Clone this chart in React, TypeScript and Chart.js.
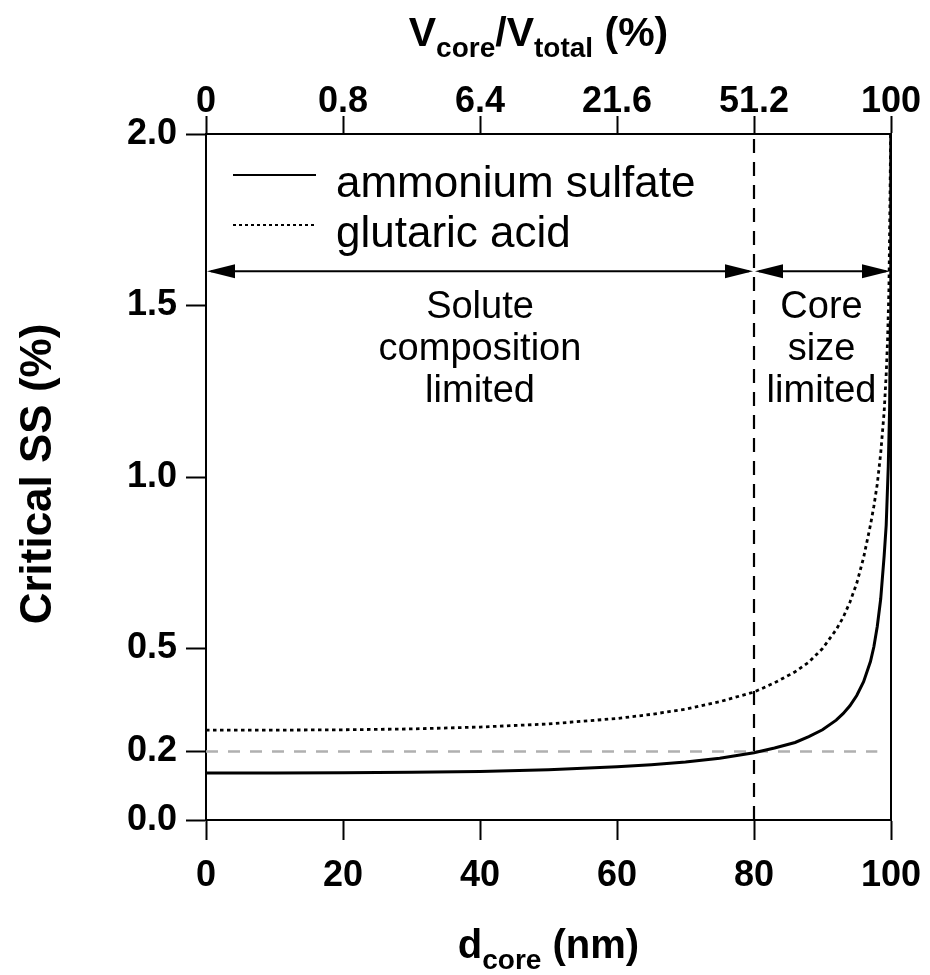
import React, { useEffect, useRef } from "react";
import { Chart, registerables } from "chart.js";

Chart.register(...registerables);

// ---- data ----
const dCore = [0, 10, 20, 30, 40, 50, 60, 65, 70, 75, 80, 83, 86, 88, 90, 92, 93, 94, 95, 96, 97, 97.5, 98, 98.5, 99, 99.3, 99.6, 99.8, 99.9, 99.97];
const ammoniumSulfate = [0.137, 0.137, 0.1375, 0.139, 0.1415, 0.1465, 0.155, 0.161, 0.169, 0.18, 0.196, 0.21, 0.226, 0.243, 0.263, 0.291, 0.31, 0.333, 0.363, 0.403, 0.462, 0.505, 0.565, 0.645, 0.77, 0.86, 1.03, 1.2, 1.45, 2.0];
const dCoreGA = [0, 10, 20, 30, 40, 50, 60, 65, 70, 75, 80, 83, 86, 88, 90, 92, 93, 94, 95, 96, 97, 97.5, 98, 98.5, 99, 99.3, 99.5, 99.7, 99.85, 99.95];
const glutaricAcid = [0.262, 0.262, 0.263, 0.2655, 0.271, 0.28, 0.296, 0.308, 0.323, 0.345, 0.373, 0.4, 0.432, 0.46, 0.5, 0.555, 0.59, 0.635, 0.69, 0.765, 0.86, 0.915, 0.98, 1.07, 1.19, 1.3, 1.4, 1.55, 1.8, 2.0];

const bottomTicks = [0, 20, 40, 60, 80, 100];
const topTickLabels = ["0", "0.8", "6.4", "21.6", "51.2", "100"];
const yTicks = [0, 0.2, 0.5, 1.0, 1.5, 2.0];

const refSS = 0.2;
const refEnd = 98;
const boundary = 80;
const arrowLevel = 1.6;

const seriesNames = ["ammonium sulfate", "glutaric acid"];
const leftRegion = ["Solute", "composition", "limited"];
const rightRegion = ["Core", "size", "limited"];

const FONT = "'Liberation Sans', Arial, Helvetica, sans-serif";

type Seg = { t: string; sub?: boolean };

function segWidth(ctx: CanvasRenderingContext2D, segs: Seg[], big: number, small: number) {
  let w = 0;
  for (const s of segs) {
    ctx.font = `bold ${s.sub ? small : big}px ${FONT}`;
    w += ctx.measureText(s.t).width;
  }
  return w;
}

function drawSegs(ctx: CanvasRenderingContext2D, segs: Seg[], cx: number, baseline: number, big: number, small: number, subShift: number) {
  const total = segWidth(ctx, segs, big, small);
  let x = cx - total / 2;
  ctx.textAlign = "left";
  ctx.textBaseline = "alphabetic";
  for (const s of segs) {
    ctx.font = `bold ${s.sub ? small : big}px ${FONT}`;
    ctx.fillText(s.t, x, baseline + (s.sub ? subShift : 0));
    x += ctx.measureText(s.t).width;
  }
}

function arrowHead(ctx: CanvasRenderingContext2D, tipX: number, y: number, dir: number) {
  const L = 28, H = 7;
  ctx.beginPath();
  ctx.moveTo(tipX, y);
  ctx.lineTo(tipX - dir * L, y - H);
  ctx.lineTo(tipX - dir * L, y + H);
  ctx.closePath();
  ctx.fill();
}

function doubleArrow(ctx: CanvasRenderingContext2D, x1: number, x2: number, y: number) {
  ctx.beginPath();
  ctx.moveTo(x1 + 4, y);
  ctx.lineTo(x2 - 4, y);
  ctx.stroke();
  arrowHead(ctx, x1, y, -1);
  arrowHead(ctx, x2, y, 1);
}

const overlayPlugin = {
  id: "overlay",
  afterDraw(chart: any) {
    const { ctx, scales } = chart;
    const xs = scales.x, ys = scales.y;
    ctx.save();
    ctx.fillStyle = "#000";
    ctx.strokeStyle = "#000";
    ctx.lineWidth = 2;
    ctx.setLineDash([]);

    // arrows
    const ay = ys.getPixelForValue(arrowLevel);
    const x0 = xs.getPixelForValue(0);
    const xb = xs.getPixelForValue(boundary);
    const x1 = xs.getPixelForValue(100);
    doubleArrow(ctx, x0 + 1, xb - 1, ay);
    doubleArrow(ctx, xb + 1, x1 - 1, ay);

    // region labels
    ctx.font = `38px ${FONT}`;
    ctx.textAlign = "center";
    ctx.textBaseline = "alphabetic";
    const cxL = (x0 + xb) / 2;
    const cxR = (xb + x1) / 2;
    leftRegion.forEach((t, i) => ctx.fillText(t, cxL, ay + 47 + i * 42));
    rightRegion.forEach((t, i) => ctx.fillText(t, cxR - 1, ay + 47 + i * 42));

    // legend
    const ly1 = ys.top + 41;
    const ly2 = ys.top + 91;
    ctx.lineWidth = 2;
    ctx.beginPath();
    ctx.moveTo(x0 + 27, ly1);
    ctx.lineTo(x0 + 110, ly1);
    ctx.stroke();
    ctx.setLineDash([3, 3]);
    ctx.beginPath();
    ctx.moveTo(x0 + 27, ly2);
    ctx.lineTo(x0 + 110, ly2);
    ctx.stroke();
    ctx.setLineDash([]);
    ctx.font = `44px ${FONT}`;
    ctx.textAlign = "left";
    ctx.fillText(seriesNames[0], x0 + 130, ly1 + 22);
    ctx.fillText(seriesNames[1], x0 + 130, ly2 + 22);

    // axis titles
    drawSegs(ctx, [{ t: "d" }, { t: "core", sub: true }, { t: " (nm)" }], (x0 + x1) / 2, 958, 40, 28, 11);
    drawSegs(ctx, [{ t: "V" }, { t: "core", sub: true }, { t: "/V" }, { t: "total", sub: true }, { t: " (%)" }], (x0 + x1) / 2 - 10, 46, 41, 28, 11);

    ctx.save();
    ctx.translate(51, (ys.top + ys.bottom) / 2 - 3);
    ctx.rotate(-Math.PI / 2);
    ctx.font = `bold 44px ${FONT}`;
    ctx.textAlign = "center";
    ctx.textBaseline = "alphabetic";
    ctx.fillText("Critical SS (%)", 0, 0);
    ctx.restore();

    ctx.restore();
  },
};

const tickFont = { family: FONT, size: 36, weight: "bold" as const };

const noLabelPadding = (s: any) => {
  s.paddingLeft = 0;
  s.paddingRight = 0;
  s.paddingTop = 0;
  s.paddingBottom = 0;
};

export default function App() {
  const ref = useRef<HTMLCanvasElement | null>(null);

  useEffect(() => {
    if (!ref.current) return;
    const chart = new Chart(ref.current, {
      type: "scatter",
      data: {
        datasets: [
          {
            label: seriesNames[0],
            data: dCore.map((x, i) => ({ x, y: ammoniumSulfate[i] })),
            showLine: true,
            borderColor: "#000",
            borderWidth: 3,
            pointRadius: 0,
            fill: false,
            order: 1,
          },
          {
            label: seriesNames[1],
            data: dCoreGA.map((x, i) => ({ x, y: glutaricAcid[i] })),
            showLine: true,
            borderColor: "#000",
            borderWidth: 2.8,
            borderDash: [3.5, 3.5],
            pointRadius: 0,
            fill: false,
            order: 2,
          },
          {
            label: "ref",
            data: [{ x: 0, y: refSS }, { x: refEnd, y: refSS }],
            showLine: true,
            borderColor: "#b0b0b0",
            borderWidth: 2.5,
            borderDash: [12, 10],
            pointRadius: 0,
            fill: false,
            order: 4,
          },
          {
            label: "boundary",
            data: [{ x: boundary, y: 0 }, { x: boundary, y: 2 }],
            showLine: true,
            borderColor: "#000",
            borderWidth: 2.2,
            borderDash: [14, 9],
            pointRadius: 0,
            fill: false,
            order: 3,
          },
        ],
      },
      options: {
        animation: false,
        responsive: false,
        maintainAspectRatio: false,
        layout: { padding: 0 },
        plugins: { legend: { display: false }, tooltip: { enabled: false } },
        scales: {
          x: {
            type: "linear",
            position: "bottom",
            min: 0,
            max: 100,
            afterBuildTicks: (s: any) => { s.ticks = bottomTicks.map((v) => ({ value: v })); },
            afterFit: (s: any) => { s.height = 155; noLabelPadding(s); },
            ticks: { font: tickFont, color: "#000", padding: 14, maxRotation: 0, autoSkip: false },
            grid: { display: true, drawOnChartArea: false, drawTicks: true, tickLength: 20, tickColor: "#000", tickWidth: 2 },
            border: { display: true, color: "#000", width: 2 },
          },
          xTop: {
            type: "linear",
            position: "top",
            min: 0,
            max: 100,
            afterBuildTicks: (s: any) => { s.ticks = bottomTicks.map((v) => ({ value: v })); },
            afterFit: (s: any) => { s.height = 134; noLabelPadding(s); },
            ticks: {
              font: tickFont,
              color: "#000",
              padding: -8,
              maxRotation: 0,
              autoSkip: false,
              callback: (v: any) => topTickLabels[bottomTicks.indexOf(Number(v))] ?? "",
            },
            grid: { display: true, drawOnChartArea: false, drawTicks: true, tickLength: 18, tickColor: "#000", tickWidth: 2 },
            border: { display: true, color: "#000", width: 2 },
          },
          y: {
            type: "linear",
            position: "left",
            min: 0,
            max: 2,
            afterBuildTicks: (s: any) => { s.ticks = yTicks.map((v) => ({ value: v })); },
            afterFit: (s: any) => { s.width = 206; noLabelPadding(s); },
            ticks: {
              font: tickFont,
              color: "#000",
              padding: 9,
              autoSkip: false,
              callback: (v: any) => Number(v).toFixed(1),
            },
            grid: { display: true, drawOnChartArea: false, drawTicks: true, tickLength: 20, tickColor: "#000", tickWidth: 2 },
            border: { display: true, color: "#000", width: 2 },
          },
          yRight: {
            type: "linear",
            position: "right",
            min: 0,
            max: 2,
            afterFit: (s: any) => { s.width = 39; noLabelPadding(s); },
            ticks: { display: false },
            grid: { display: false, drawTicks: false },
            border: { display: true, color: "#000", width: 2 },
          },
        },
      },
      plugins: [overlayPlugin],
    } as any);
    return () => chart.destroy();
  }, []);

  return (
    <div style={{ position: "fixed", left: 0, top: 0, width: 930, height: 975, background: "#fff" }}>
      <canvas ref={ref} width={930} height={975} style={{ width: 930, height: 975, display: "block" }} />
    </div>
  );
}
